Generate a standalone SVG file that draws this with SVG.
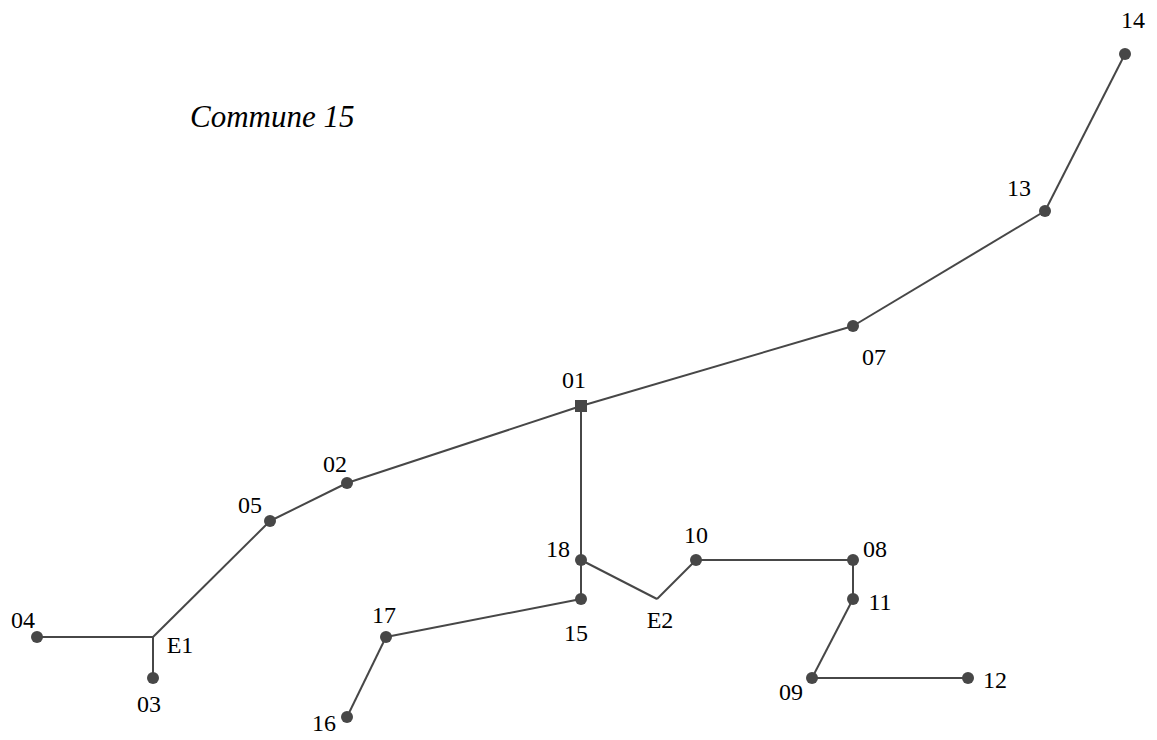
<svg xmlns="http://www.w3.org/2000/svg" width="1157" height="740" viewBox="0 0 1157 740">
<style>
.e{stroke:#474747;stroke-width:2;fill:none}
.n{fill:#474747}
text{font-size:24px;fill:#000;text-anchor:middle}
.t{font-style:italic;font-size:31px;text-anchor:start}
</style>
<rect width="1157" height="740" fill="#fff"/>
<g font-family="Liberation Serif, Times New Roman, Times, DejaVu Serif, serif">
<text class="t" x="190" y="127">Commune 15</text>
<g id="connectors">
<line class="e" x1="37" y1="637" x2="153" y2="637"/>
<line class="e" x1="153" y1="637" x2="153" y2="678"/>
<line class="e" x1="153" y1="637" x2="270" y2="521"/>
<line class="e" x1="270" y1="521" x2="347" y2="483"/>
<line class="e" x1="347" y1="483" x2="581" y2="406"/>
<line class="e" x1="581" y1="406" x2="853" y2="326"/>
<line class="e" x1="853" y1="326" x2="1045" y2="211"/>
<line class="e" x1="1045" y1="211" x2="1125" y2="54"/>
<line class="e" x1="581" y1="406" x2="581" y2="560"/>
<line class="e" x1="581" y1="560" x2="581" y2="599"/>
<line class="e" x1="581" y1="599" x2="386" y2="637"/>
<line class="e" x1="386" y1="637" x2="347" y2="717"/>
<line class="e" x1="581" y1="560" x2="657" y2="599"/>
<line class="e" x1="657" y1="599" x2="696" y2="560"/>
<line class="e" x1="696" y1="560" x2="853" y2="560"/>
<line class="e" x1="853" y1="560" x2="853" y2="599"/>
<line class="e" x1="853" y1="599" x2="812" y2="678"/>
<line class="e" x1="812" y1="678" x2="968" y2="678"/>
</g>
<g id="n01"><rect class="n" x="575" y="400" width="12" height="12"/><text x="574" y="388">01</text></g>
<g id="n02"><circle class="n" cx="347" cy="483" r="6"/><text x="335" y="472">02</text></g>
<g id="n03"><circle class="n" cx="153" cy="678" r="6"/><text x="149" y="712">03</text></g>
<g id="n04"><circle class="n" cx="37" cy="637" r="6"/><text x="23" y="628">04</text></g>
<g id="n05"><circle class="n" cx="270" cy="521" r="6"/><text x="250" y="513">05</text></g>
<g id="n07"><circle class="n" cx="853" cy="326" r="6"/><text x="874" y="365">07</text></g>
<g id="n08"><circle class="n" cx="853" cy="560" r="6"/><text x="875" y="557">08</text></g>
<g id="n09"><circle class="n" cx="812" cy="678" r="6"/><text x="791" y="700">09</text></g>
<g id="n10"><circle class="n" cx="696" cy="560" r="6"/><text x="696" y="543">10</text></g>
<g id="n11"><circle class="n" cx="853" cy="599" r="6"/><text x="880" y="610">11</text></g>
<g id="n12"><circle class="n" cx="968" cy="678" r="6"/><text x="995" y="688">12</text></g>
<g id="n13"><circle class="n" cx="1045" cy="211" r="6"/><text x="1019" y="196">13</text></g>
<g id="n14"><circle class="n" cx="1125" cy="54" r="6"/><text x="1133" y="28">14</text></g>
<g id="n15"><circle class="n" cx="581" cy="599" r="6"/><text x="576" y="641">15</text></g>
<g id="n16"><circle class="n" cx="347" cy="717" r="6"/><text x="324" y="731">16</text></g>
<g id="n17"><circle class="n" cx="386" cy="637" r="6"/><text x="384" y="623">17</text></g>
<g id="n18"><circle class="n" cx="581" cy="560" r="6"/><text x="558" y="557">18</text></g>
<g id="E1"><text x="180" y="653">E1</text></g>
<g id="E2"><text x="660" y="628">E2</text></g>
</g>
</svg>
